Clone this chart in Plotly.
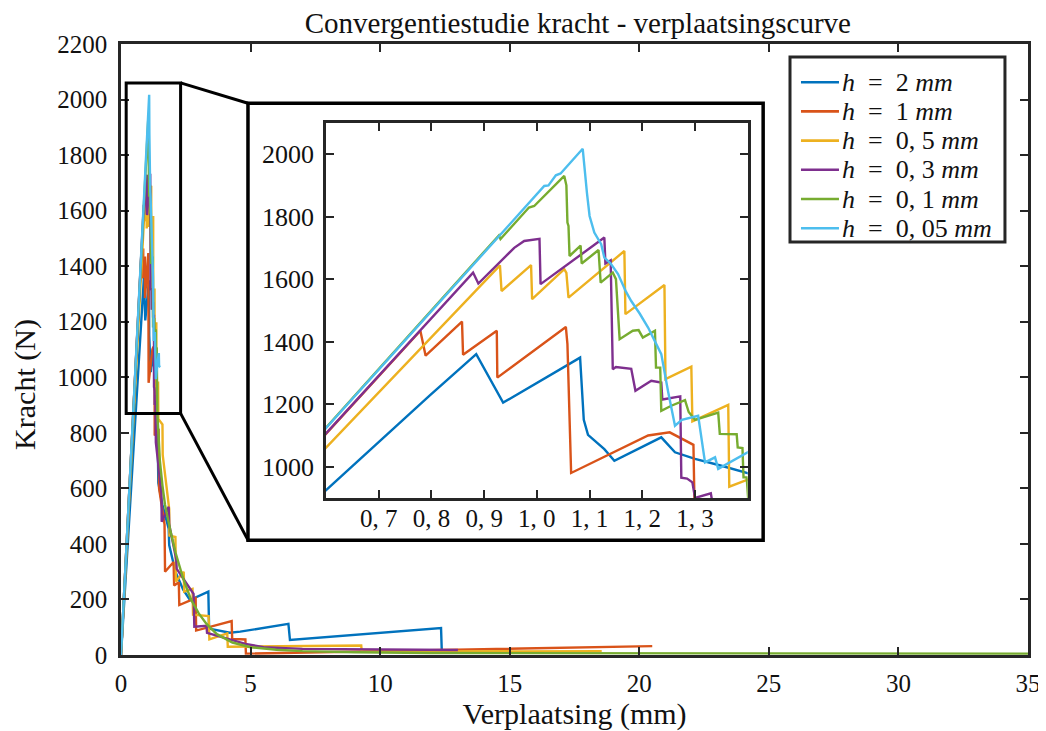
import plotly.graph_objects as go

# ---------------- data ----------------
SP = "\u2002"
labels = [f"<i>h</i>{SP}={SP}2 <i>mm</i>", f"<i>h</i>{SP}={SP}1 <i>mm</i>",
          f"<i>h</i>{SP}={SP}0, 5 <i>mm</i>", f"<i>h</i>{SP}={SP}0, 3 <i>mm</i>",
          f"<i>h</i>{SP}={SP}0, 1 <i>mm</i>", f"<i>h</i>{SP}={SP}0, 05 <i>mm</i>"]
colors = ["#0072BD", "#D95319", "#EDB120", "#7E2F8E", "#77AC30", "#4DBEEE"]

h2_x = [0, 0.792, 0.797, 0.885, 0.936, 1.082, 1.089, 1.097, 1.128, 1.147, 1.236, 1.262, 1.30, 1.35,
        1.405, 1.41, 1.42, 1.44, 1.6, 1.84, 1.86, 2.1, 2.4, 2.66, 3.37, 3.40, 4.2, 4.6, 6.46, 6.52,
        12.35, 12.38]
h2_y = [0, 1221, 1228, 1360, 1205, 1349, 1150, 1102, 1056, 1019, 1094, 1046, 1025, 1003,
        977, 970, 760, 620, 540, 455, 396, 300, 235, 198, 228, 95, 80, 84, 112, 54,
        97, 12]

h1_x = [0, 0.779, 0.789, 0.858, 0.860, 0.924, 0.925, 1.055, 1.058, 1.065, 1.211, 1.252, 1.297,
        1.30, 1.45, 1.47, 1.68, 1.70, 2.03, 2.05, 2.23, 2.25, 2.88, 2.90, 4.27, 4.29, 4.80, 4.82,
        20.5]
h1_y = [0, 1435, 1355, 1464, 1358, 1435, 1285, 1447, 1392, 980, 1100, 1110, 1070,
        790, 815, 600, 470, 300, 335, 250, 262, 180, 205, 88, 122, 58, 56, 5,
        32]

h05_x = [0, 0.930, 0.933, 0.989, 0.991, 1.052, 1.056, 1.060, 1.166, 1.168, 1.242, 1.244, 1.293,
         1.295, 1.363, 1.365, 1.403, 1.43, 1.44, 1.60, 1.61, 1.86, 1.87, 2.10, 2.12, 2.42, 2.44,
         2.76, 2.78, 3.38, 3.41, 4.10, 4.12, 9.27, 9.29, 18.55]
h05_y = [0, 1644, 1562, 1645, 1536, 1632, 1620, 1541, 1690, 1488, 1581, 1280, 1320,
         1145, 1198, 936, 961, 985, 850, 830, 720, 525, 430, 425, 265, 300, 228,
         238, 145, 140, 56, 78, 30, 34, 12, 14]

h03_x = [0, 0.879, 0.889, 0.931, 0.957, 0.976, 1.005, 1.007, 1.128, 1.130, 1.140, 1.144, 1.150,
         1.179, 1.187, 1.217, 1.236, 1.238, 1.272, 1.274, 1.285, 1.295, 1.30, 1.33, 1.345, 1.56,
         1.57, 1.84, 1.86, 2.13, 2.15, 2.80, 2.83, 3.30, 3.32, 4.2, 4.8, 5.5, 7.0, 13.0]
h03_y = [0, 1621, 1586, 1658, 1700, 1722, 1729, 1584, 1733, 1650, 1660, 1312, 1319,
         1313, 1243, 1275, 1269, 1215, 1225, 965, 962, 950, 900, 915, 765, 585,
         480, 534, 470, 345, 310, 220, 102, 105, 80, 56, 40, 28, 22, 18]

h01_x = [0, 0.928, 0.931, 0.985, 0.995, 1.052, 1.056, 1.058, 1.060, 1.062, 1.083, 1.085, 1.117,
         1.119, 1.121, 1.144, 1.150, 1.157, 1.182, 1.193, 1.201, 1.224, 1.226, 1.234, 1.236,
         1.255, 1.281, 1.288, 1.300, 1.344, 1.347, 1.379, 1.381, 1.390, 1.392, 1.398, 1.402,
         1.45, 1.5, 1.6, 1.7, 1.9, 2.1, 2.4, 2.7, 3.0, 3.3, 3.7, 4.3, 5.0, 6.0, 7.0, 9.0,
         12.0, 20.0, 35.0]
h01_y = [0, 1740, 1728, 1829, 1834, 1930, 1900, 1781, 1770, 1674, 1707, 1650, 1693,
         1616, 1589, 1621, 1600, 1408, 1435, 1437, 1413, 1435, 1317, 1317, 1179,
         1195, 1213, 1175, 1150, 1173, 1105, 1104, 1062, 1060, 966, 966, 870,
         790, 700, 610, 540, 450, 370, 275, 200, 150, 112, 75, 45, 28, 19, 14, 10,
         7, 6, 5]

h005_x = [0, 1.014, 1.022, 1.036, 1.045, 1.087, 1.095, 1.100, 1.109, 1.122, 1.128, 1.140, 1.154,
          1.169, 1.179, 1.195, 1.211, 1.236, 1.249, 1.262, 1.275, 1.306, 1.319, 1.338, 1.344,
          1.405, 1.46, 1.47, 1.52]
h005_y = [0, 1898, 1900, 1932, 1938, 2017, 1876, 1802, 1749, 1712, 1669, 1650, 1616,
          1560, 1530, 1490, 1445, 1360, 1240, 1131, 1150, 1163, 1014, 1030, 993,
          1051, 1087, 1040, 1037]

series_x = [h2_x, h1_x, h05_x, h03_x, h01_x, h005_x]
series_y = [h2_y, h1_y, h05_y, h03_y, h01_y, h005_y]

main_xticks = [0, 5, 10, 15, 20, 25, 30, 35]
main_yticks = [0, 200, 400, 600, 800, 1000, 1200, 1400, 1600, 1800, 2000, 2200]
inset_xticks = [0.7, 0.8, 0.9, 1.0, 1.1, 1.2, 1.3]
inset_xticklabels = ["0, 7", "0, 8", "0, 9", "1, 0", "1, 1", "1, 2", "1, 3"]
inset_yticks = [1000, 1200, 1400, 1600, 1800, 2000]

main_xrange = [0, 35]
main_yrange = [0, 2200]
inset_xrange = [0.6, 1.4]
inset_yrange = [900, 2100]
zoom_box = dict(x0=0.2, x1=2.3, y0=870, y1=2060)

# ---------------- figure ----------------
FONT = "Liberation Serif"
AX = "#262626"
TXT = "#111111"
fig = go.Figure()

for i in range(6):
    fig.add_trace(go.Scatter(x=series_x[i], y=series_y[i], mode="lines", name=labels[i],
                             line=dict(color=colors[i], width=2.4), xaxis="x", yaxis="y",
                             showlegend=False))
for i in range(6):
    fig.add_trace(go.Scatter(x=series_x[i], y=series_y[i], mode="lines", showlegend=False,
                             name=labels[i],
                             line=dict(color=colors[i], width=2.4), xaxis="x2", yaxis="y2"))

axis_common = dict(showgrid=False, zeroline=False, showline=True, linecolor=AX, linewidth=2.5,
                   mirror="ticks", ticks="inside", ticklen=8, tickwidth=2, tickcolor=AX,
                   automargin=False)
main_tickfont = dict(family=FONT, size=25, color=TXT)
title_font = dict(family=FONT, size=30, color=TXT)

ins_x0, ins_x1 = 0.226, 0.691
ins_y0, ins_y1 = 0.257, 0.871

# the page adds an 8 px body margin, so the figure is 8 px smaller than the window
W, H = 1038, 723
fig.update_layout(
    width=W, height=H,
    margin=dict(l=113, r=18, t=36, b=76),
    paper_bgcolor="white", plot_bgcolor="white",
    title=dict(text="Convergentiestudie kracht - verplaatsingscurve", x=0.549, xanchor="center",
               y=1 - 15 / H, yanchor="middle", yref="container",
               font=dict(family=FONT, size=29, color=TXT)),
    xaxis=dict(range=main_xrange, tickvals=main_xticks, domain=[0, 1], anchor="y",
               title=dict(text="Verplaatsing (mm)", font=title_font, standoff=4),
               ticklabelstandoff=4, tickfont=main_tickfont, **axis_common),
    yaxis=dict(range=main_yrange, tickvals=main_yticks, domain=[0, 1], anchor="x",
               ticklabelstandoff=6, tickfont=main_tickfont, **axis_common),
    xaxis2=dict(range=inset_xrange, tickvals=inset_xticks, ticktext=inset_xticklabels,
                domain=[ins_x0, ins_x1], anchor="y2", ticklabelstandoff=-4,
                tickfont=dict(family=FONT, size=25, color=TXT), **axis_common),
    yaxis2=dict(range=inset_yrange, tickvals=inset_yticks, domain=[ins_y0, ins_y1], anchor="x2",
                ticklabelstandoff=4, tickfont=dict(family=FONT, size=26, color=TXT),
                **axis_common),
    showlegend=False,
)

# y-axis label (placed like the reference, slightly below the axis centre)
fig.add_annotation(xref="paper", yref="paper", x=-0.106, y=0.4435, text="Kracht (N)",
                   textangle=-90, showarrow=False, xanchor="center", yanchor="middle",
                   font=title_font)

# convert main-axis data coords to paper coords
def px(xv):
    return (xv - main_xrange[0]) / (main_xrange[1] - main_xrange[0])

def py(yv):
    return (yv - main_yrange[0]) / (main_yrange[1] - main_yrange[0])

# white inset frame (paper)
frame = dict(x0=0.140, x1=0.708, y0=0.188, y1=0.903)
fig.add_shape(type="rect", xref="paper", yref="paper", layer="below",
              line=dict(color="black", width=3.5), fillcolor="white", **frame)
# zoom rectangle in data coords
fig.add_shape(type="rect", xref="x", yref="y", layer="above",
              line=dict(color="black", width=3), fillcolor="rgba(0,0,0,0)", **zoom_box)
# connector lines
fig.add_shape(type="line", xref="paper", yref="paper", layer="above",
              x0=px(zoom_box["x1"]), y0=py(zoom_box["y1"]), x1=frame["x0"], y1=frame["y1"],
              line=dict(color="black", width=3))
fig.add_shape(type="line", xref="paper", yref="paper", layer="above",
              x0=px(zoom_box["x1"]), y0=py(zoom_box["y0"]), x1=frame["x0"], y1=frame["y0"],
              line=dict(color="black", width=3))

# legend (box, line samples and labels), paper coordinates
leg = dict(x0=0.7376, x1=0.9746, y0=0.6759, y1=0.9787)
row_top = 0.9375
row_step = 0.0478
sample_x0, sample_x1, text_x = 0.7497, 0.7916, 0.7927
fig.add_shape(type="rect", xref="paper", yref="paper", layer="above",
              line=dict(color=AX, width=3), fillcolor="white", **leg)
for i in range(6):
    yy = row_top - i * row_step
    fig.add_shape(type="line", xref="paper", yref="paper", layer="above",
                  x0=sample_x0, x1=sample_x1, y0=yy, y1=yy,
                  line=dict(color=colors[i], width=2.6))
    fig.add_annotation(xref="paper", yref="paper", x=text_x, y=yy, text=labels[i],
                       showarrow=False, xanchor="left", yanchor="middle",
                       font=dict(family=FONT, size=26, color=TXT))

fig.write_html("out.html")
